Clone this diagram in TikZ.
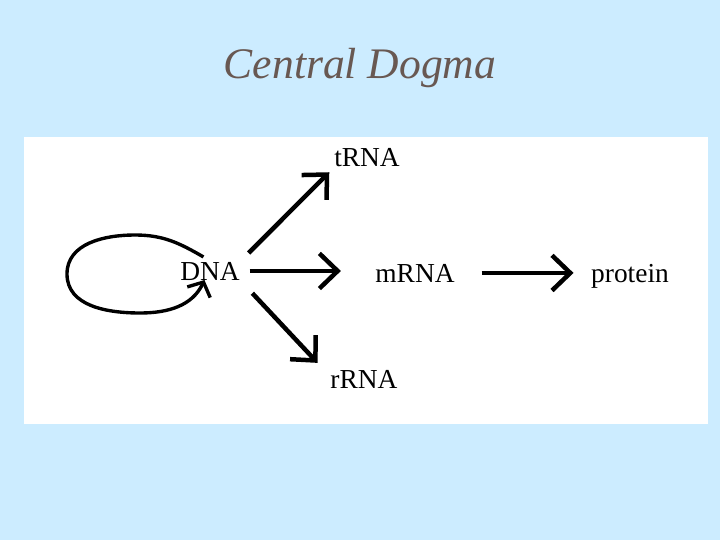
\documentclass[tikz,border=0pt]{standalone}
\usepackage{fontspec}
\setmainfont{Liberation Serif}
\usepackage{xcolor}
\usetikzlibrary{arrows.meta,positioning,calc}
\definecolor{skyback}{RGB}{204,236,255}
\definecolor{titlegray}{RGB}{104,88,82}

\begin{document}
\begin{tikzpicture}[x=0.025cm,y=0.025cm,
  lbl/.style={anchor=base,font=\fontsize{19.5}{23}\selectfont},
  flow/.style={line width=3.2pt,-{Straight Barb[length=13pt,width=25pt]}},
  selfloop/.style={line width=2.4pt,-{Straight Barb[length=8pt,width=18pt]}}]
% Background
\fill[skyback] (0,0) rectangle (720,540);
\useasboundingbox (0,0) rectangle (720,540);
% Title
\node[anchor=base,text=titlegray,font=\fontsize{31}{37}\selectfont\itshape] (title) at (360,461) {Central Dogma};
% Panel
\fill[white] (24,116) rectangle (708,403);

% Molecules
\node[lbl] (dna) at (210,260) {DNA};
\node[lbl] (mrna) at (415,258) {mRNA};
\node[lbl] (protein) at (630,258) {protein};
\node[lbl] (trna) at (367,373) {tRNA};
\node[lbl] (rrna) at (364,152) {rRNA};

% Transcription and translation
\draw[flow,shorten <=3.5pt,shorten >=21pt] (dna.east) -- (dna.east -| mrna.west);
\draw[flow,shorten <=15.6pt,shorten >=9pt] (mrna.east) -- (mrna.east -| protein.west);
\draw[flow,shorten <=4pt] (dna.north east) -- (trna.south west);
\draw[flow,shorten <=8pt,shorten >=2pt] (dna.south east) -- ($(rrna.north west)+(-6,0)$);

% Replication loop
\coordinate (looptop) at (135,305);
\coordinate (loopleft) at (67,266);
\coordinate (loopbottom) at (140,227);
\draw[selfloop] (dna.115) to[out=150,in=0] (looptop) to[out=180,in=90] (loopleft)
  to[out=270,in=180] (loopbottom) to[out=0,in=245] ($(dna.245)+(1,5)$);

\end{tikzpicture}
\end{document}
